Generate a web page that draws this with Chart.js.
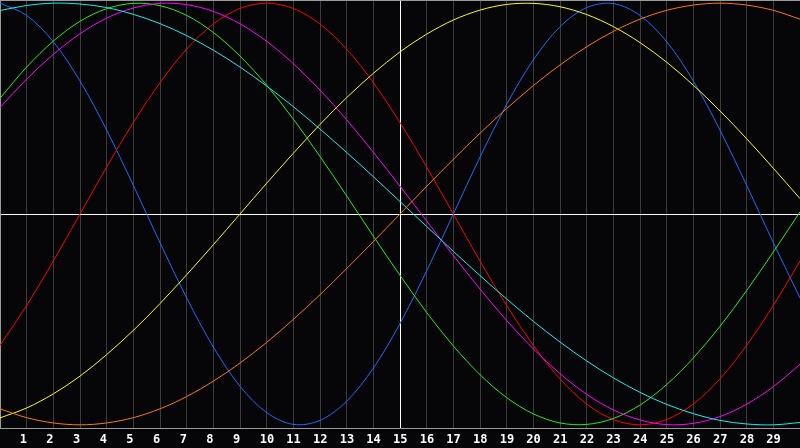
<!DOCTYPE html>
<html>
<head>
<meta charset="utf-8">
<script src="https://cdn.jsdelivr.net/npm/chart.js@4/dist/chart.umd.min.js"></script>
<style>
html,body{margin:0;padding:0;background:#060508;}
#wrap{width:800px;height:448px;position:relative;}
</style>
</head>
<body>
<div id="wrap"><canvas id="c" width="800" height="448"></canvas></div>
<script>
const days = [0,1,2,3,4,5,6,7,8,9,10,11,12,13,14,15,16,17,18,19,20,21,22,23,24,25,26,27,28,29,30];
const tickLabels = ['','1','2','3','4','5','6','7','8','9','10','11','12','13','14','15','16','17','18','19','20','21','22','23','24','25','26','27','28','29',''];

const blueVals = [1.00,0.942,0.817,0.631,0.398,0.136,-0.136,-0.398,-0.631,-0.817,-0.942,-0.998,-0.979,-0.888,-0.731,-0.520,-0.270,0,0.270,0.520,0.731,0.888,0.979,0.998,0.942,0.817,0.631,0.398,0.136,-0.136,-0.398];
const redVals = [-0.623,-0.434,-0.223,0,0.223,0.434,0.623,0.782,0.901,0.975,1,0.975,0.901,0.782,0.623,0.434,0.223,0,-0.223,-0.434,-0.623,-0.782,-0.901,-0.975,-1,-0.975,-0.901,-0.782,-0.623,-0.434,-0.223];
const greenVals = [0.549,0.697,0.820,0.914,0.974,0.999,0.988,0.942,0.861,0.749,0.611,0.450,0.273,0.086,-0.105,-0.291,-0.467,-0.626,-0.762,-0.871,-0.948,-0.991,-0.998,-0.970,-0.906,-0.809,-0.683,-0.533,-0.363,-0.180,0.010];
const magentaVals = [0.505,0.640,0.757,0.855,0.929,0.977,0.999,0.993,0.961,0.902,0.819,0.713,0.588,0.447,0.293,0.132,-0.033,-0.197,-0.356,-0.505,-0.640,-0.757,-0.855,-0.929,-0.977,-0.999,-0.993,-0.961,-0.902,-0.819,-0.713];
const cyanVals = [0.965,0.989,1.000,0.996,0.979,0.947,0.903,0.846,0.777,0.697,0.607,0.509,0.403,0.292,0.177,0.059,-0.059,-0.177,-0.292,-0.403,-0.509,-0.607,-0.697,-0.777,-0.846,-0.903,-0.947,-0.979,-0.996,-1.000,-0.989];
const yellowVals = [-0.967,-0.920,-0.853,-0.769,-0.667,-0.552,-0.425,-0.288,-0.146,0,0.146,0.288,0.425,0.552,0.667,0.769,0.853,0.920,0.967,0.994,0.999,0.983,0.946,0.889,0.813,0.720,0.611,0.489,0.357,0.217,0.073];
const orangeVals = [-0.924,-0.966,-0.991,-1,-0.991,-0.966,-0.924,-0.866,-0.793,-0.707,-0.609,-0.5,-0.383,-0.259,-0.131,0,0.131,0.259,0.383,0.5,0.609,0.707,0.793,0.866,0.924,0.966,0.991,1,0.991,0.966,0.924];

const seriesList = [
  {vals: orangeVals, color:'#ff7a00'},
  {vals: yellowVals, color:'#ffff00'},
  {vals: cyanVals, color:'#14f0f0'},
  {vals: magentaVals, color:'#ff00ff'},
  {vals: greenVals, color:'#22f011'},
  {vals: redVals, color:'#ff0000'},
  {vals: blueVals, color:'#1a6cff'}
];

const datasets = seriesList.map(s => ({
  data: s.vals.map((v,i)=>({x:days[i], y:v})),
  borderColor: s.color,
  borderWidth: 1,
  pointRadius: 0,
  tension: 0.33,
  fill: false
}));

const frameColor = '#9a9a9a';

new Chart(document.getElementById('c'), {
  type: 'line',
  data: { datasets },
  options: {
    responsive: false,
    devicePixelRatio: 1,
    animation: false,
    layout: { padding: 0 },
    plugins: { legend:{display:false}, tooltip:{enabled:false} },
    scales: {
      x: {
        type: 'linear', min: 0, max: 30,
        afterFit: s => { s.height = 20; s.paddingLeft = 0; s.paddingRight = 0; },
        ticks: {
          stepSize: 1, autoSkip: false, maxRotation: 0,
          color: '#ffffff',
          font: { family: 'DejaVu Sans Mono', weight: 'bold', size: 12 },
          padding: 5, align: 'start', labelOffset: -7,
          callback: (v) => tickLabels[v] !== undefined ? tickLabels[v] : ''
        },
        grid: {
          drawTicks: false, lineWidth: 1,
          color: ctx => {
            const v = ctx.tick ? ctx.tick.value : null;
            if (v === 15) return '#ffffff';
            if (v === 0 || v === 30) return frameColor;
            return '#3d3d3d';
          }
        },
        border: { display: true, color: frameColor }
      },
      y: {
        min: -1.015, max: 1.015,
        afterFit: s => { s.width = 0; s.paddingTop = 0; s.paddingBottom = 0; },
        ticks: { display: false, stepSize: 1 },
        grid: {
          drawTicks: false, lineWidth: 1,
          color: ctx => {
            const v = ctx.tick ? ctx.tick.value : null;
            if (v === 0) return '#ffffff';
            if (v === 1.015) return frameColor;
            return 'rgba(0,0,0,0)';
          }
        },
        border: { display: true, color: frameColor }
      }
    }
  }
});
</script>
</body>
</html>
